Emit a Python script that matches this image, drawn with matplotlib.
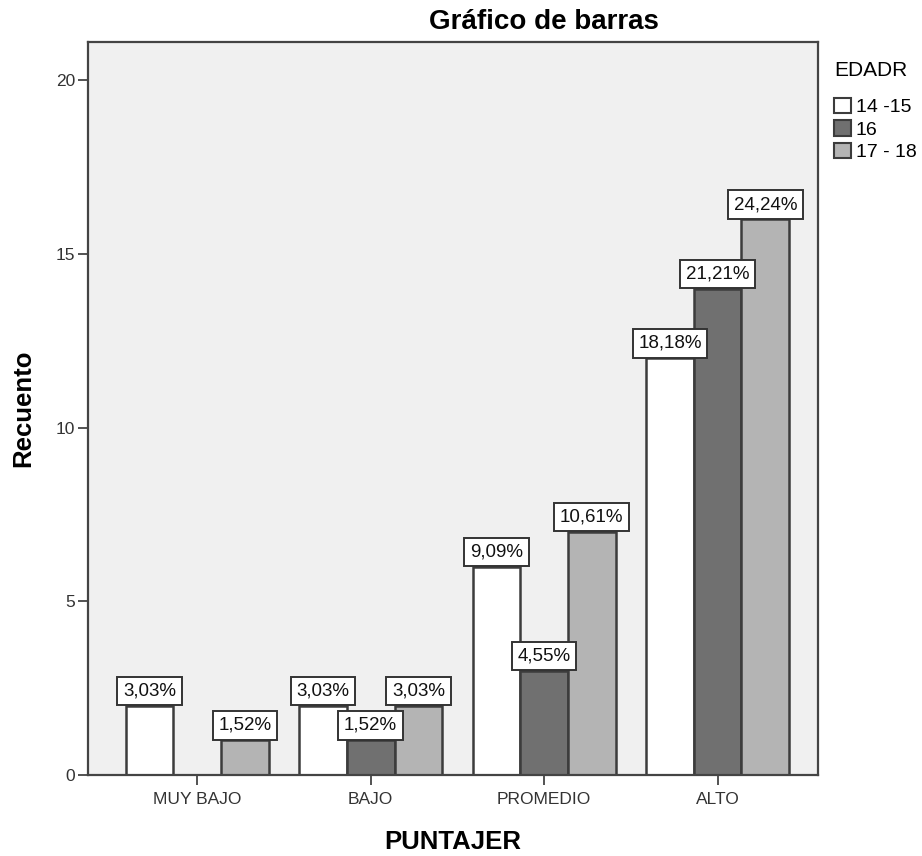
import matplotlib
matplotlib.use("Agg")
import matplotlib.pyplot as plt
import numpy as np
from matplotlib.patches import Patch

plt.rcParams['font.family'] = ['Liberation Sans', 'DejaVu Sans']

categories = ["MUY BAJO", "BAJO", "PROMEDIO", "ALTO"]
series_names = ["14 -15", "16", "17 - 18"]
counts_14_15 = [2, 2, 6, 12]
counts_16 = [0, 1, 3, 14]
counts_17_18 = [1, 2, 7, 16]
pct_14_15 = ["3,03%", "3,03%", "9,09%", "18,18%"]
pct_16 = ["", "1,52%", "4,55%", "21,21%"]
pct_17_18 = ["1,52%", "3,03%", "10,61%", "24,24%"]
colors = ["#ffffff", "#707070", "#b4b4b4"]

series = [counts_14_15, counts_16, counts_17_18]
labels = [pct_14_15, pct_16, pct_17_18]

fig = plt.figure(figsize=(9.22, 8.56), dpi=100)
ax = fig.add_axes([0.0954, 0.0946, 0.792, 0.856])
ax.set_facecolor("#f0f0f0")

x = np.arange(len(categories))
w = 0.275
edge = "#3c3c3c"
fs_lab = 13.5
pad = 0.3
for i, (vals, labs, col) in enumerate(zip(series, labels, colors)):
    pos = x + (i - 1) * w
    ax.bar(pos, vals, width=w, color=col, edgecolor=edge, linewidth=1.8, zorder=2)
    for p, v, l in zip(pos, vals, labs):
        if v > 0 and l:
            ax.annotate(l, (p, v), xytext=(0, pad * fs_lab + 0.5), textcoords="offset points",
                        ha="center", va="bottom", fontsize=fs_lab, zorder=5, color="#111111",
                        bbox=dict(boxstyle=f"square,pad={pad}", fc="white", ec="#333333", lw=1.4))

ax.set_xlim(-0.63, 3.58)
ax.set_ylim(0, 21.1)
ax.set_yticks([0, 5, 10, 15, 20])
ax.set_xticks(x)
ax.set_xticklabels(categories)
ax.tick_params(axis="both", labelsize=12.5, length=7, width=1.3, color="#444444", labelcolor="#333333")
ax.tick_params(axis="x", pad=5)
ax.tick_params(axis="y", pad=2)
for s in ax.spines.values():
    s.set_color("#444444")
    s.set_linewidth(1.6)

ax.set_xlabel("PUNTAJER", fontsize=18.5, fontweight="bold", labelpad=17)
ax.set_ylabel("Recuento", fontsize=18.5, fontweight="bold", labelpad=15)
fig.text(0.59, 0.974, "Gráfico de barras", ha="center", va="center", fontsize=20, fontweight="bold")

handles = [Patch(facecolor=c, edgecolor=edge, linewidth=1.5) for c in colors]
leg = fig.legend(handles, series_names, loc="upper left", bbox_to_anchor=(0.905, 0.929),
                 title="EDADR", frameon=False, fontsize=14, title_fontsize=15,
                 handlelength=0.85, handleheight=0.85, handletextpad=0.25, labelspacing=0.2,
                 borderpad=0.0, borderaxespad=0.0, alignment="left")
leg._legend_box.sep = 13
fig.savefig("out.png", dpi=100)
